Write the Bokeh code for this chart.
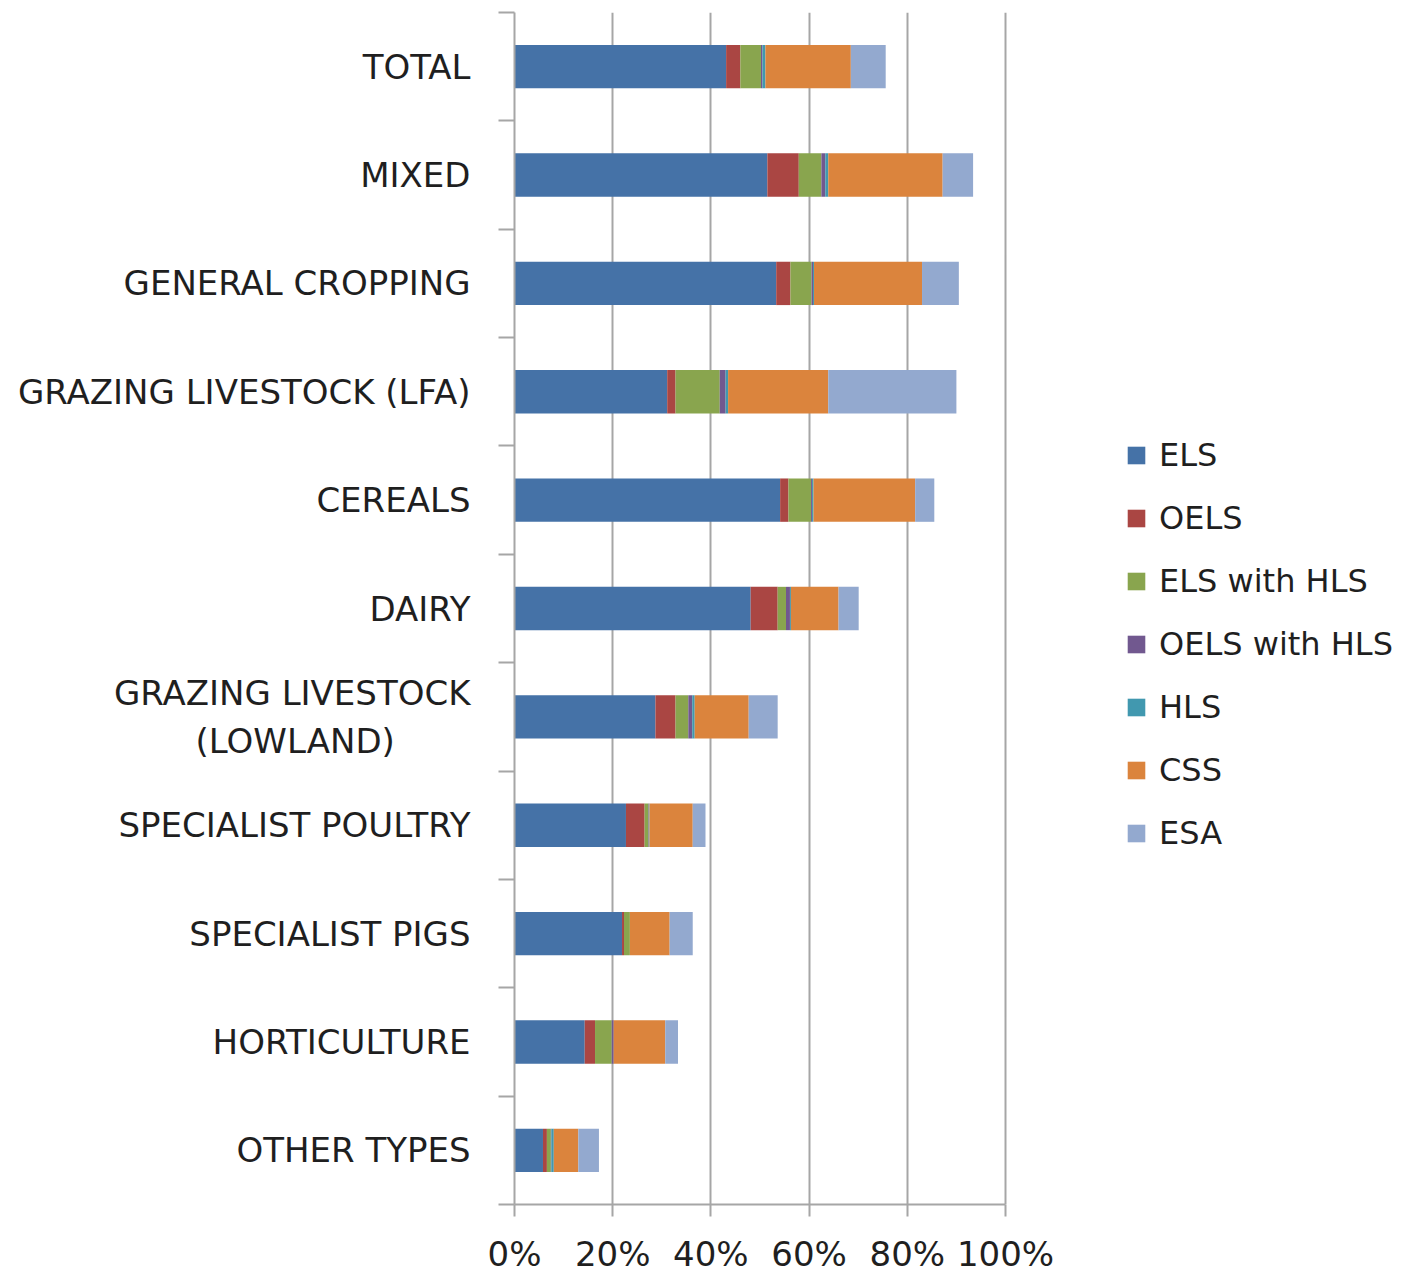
from bokeh.plotting import figure
from bokeh.models import ColumnDataSource, FixedTicker, Range1d, Legend, PrintfTickFormatter
from bokeh.embed import file_html
from bokeh.resources import INLINE

NB = "\u00a0"
categories = ["TOTAL", "MIXED", "GENERAL CROPPING", "GRAZING LIVESTOCK (LFA)", "CEREALS", "DAIRY",
              "GRAZING LIVESTOCK\n(LOWLAND)" + NB * 7, "SPECIALIST POULTRY", "SPECIALIST PIGS",
              "HORTICULTURE", "OTHER TYPES"]
series = ["ELS", "OELS", "ELS with HLS", "OELS with HLS", "HLS", "CSS", "ESA"]
els      = [43.1, 51.5, 53.3, 31.1, 54.1, 48.1, 28.7, 22.7, 21.9, 14.3, 5.8]
oels     = [2.9, 6.4, 2.9, 1.7, 1.7, 5.5, 4.1, 3.8, 0.4, 2.1, 0.8]
els_hls  = [4.2, 4.6, 4.3, 9.0, 4.6, 1.7, 2.6, 0.8, 1.2, 3.4, 0.8]
oels_hls = [0.3, 0.8, 0.3, 1.2, 0.2, 0.8, 0.8, 0.1, 0.0, 0.4, 0.1]
hls      = [0.6, 0.6, 0.2, 0.5, 0.3, 0.2, 0.5, 0.1, 0.0, 0.0, 0.5]
css      = [17.4, 23.3, 22.0, 20.4, 20.7, 9.7, 11.0, 8.8, 8.1, 10.5, 5.0]
esa      = [7.1, 6.2, 7.5, 26.1, 3.9, 4.1, 5.9, 2.6, 4.7, 2.6, 4.2]
x_ticks = [0, 20, 40, 60, 80, 100]

colors = ["#4572A7", "#AA4643", "#89A54E", "#71588F", "#4198AF", "#DB843D", "#93A9CF"]

W, H = 1396, 1276
LEFT, TOP, BOTTOM = 514, 12, 71
AXIS_PX = 491  # pixels for 0..100%
frame_w = W - LEFT
x_end = 100.0 * frame_w / AXIS_PX

n = len(categories)
ypos = [n - 1 - i for i in range(n)]
data = dict(y=ypos)
for name, vals in zip(series, [els, oels, els_hls, oels_hls, hls, css, esa]):
    data[name] = vals
source = ColumnDataSource(data)

p = figure(width=W, height=H, output_backend="svg", toolbar_location=None,
           x_range=Range1d(0, x_end), y_range=Range1d(-0.5, n - 0.5),
           min_border_left=LEFT, min_border_right=0, min_border_top=TOP, min_border_bottom=BOTTOM)
p.outline_line_color = None

renderers = p.hbar_stack(series, y="y", height=0.4, color=colors, source=source, line_color=None)

# grid
p.ygrid.grid_line_color = None
p.xgrid.ticker = FixedTicker(ticks=x_ticks)
p.xgrid.grid_line_color = "#a6a6a6"
p.xgrid.grid_line_width = 2

# x axis
xa = p.xaxis[0]
xa.bounds = (0, 100)
xa.ticker = FixedTicker(ticks=x_ticks)
xa.formatter = PrintfTickFormatter(format="%d%%")
xa.axis_line_color = "#a6a6a6"
xa.axis_line_width = 2
xa.major_tick_line_color = "#a6a6a6"
xa.major_tick_line_width = 2
xa.major_tick_out = 12
xa.major_tick_in = 0
xa.minor_tick_line_color = None
xa.major_label_text_font = "DejaVu Sans"
xa.major_label_text_font_size = "34px"
xa.major_label_text_color = "#1f1f1f"
xa.major_label_standoff = 17

# y axis
ya = p.yaxis[0]
ya.ticker = FixedTicker(ticks=ypos, minor_ticks=[k - 0.5 for k in range(n + 1)])
ya.major_label_overrides = {y: c for y, c in zip(ypos, categories)}
ya.axis_line_color = "#a6a6a6"
ya.axis_line_width = 2
ya.major_tick_line_color = None
ya.major_tick_out = 0
ya.major_tick_in = 0
ya.minor_tick_line_color = "#a6a6a6"
ya.minor_tick_line_width = 2
ya.minor_tick_out = 16
ya.minor_tick_in = 0
ya.major_label_text_font = "DejaVu Sans"
ya.major_label_text_font_size = "34px"
ya.major_label_text_color = "#1f1f1f"
ya.major_label_standoff = 28

legend = Legend(items=[(s, [r]) for s, r in zip(series, renderers)],
                location=(611, 352))
legend.border_line_color = None
legend.background_fill_alpha = 0
legend.padding = 0
legend.margin = 0
legend.glyph_width = 22
legend.glyph_height = 22
legend.label_text_font = "DejaVu Sans"
legend.label_text_font_size = "32px"
legend.label_text_color = "#1f1f1f"
legend.label_standoff = 12
legend.label_height = 38
legend.spacing = 25
p.add_layout(legend, "center")

open("out.html", "w").write(file_html(p, INLINE))
